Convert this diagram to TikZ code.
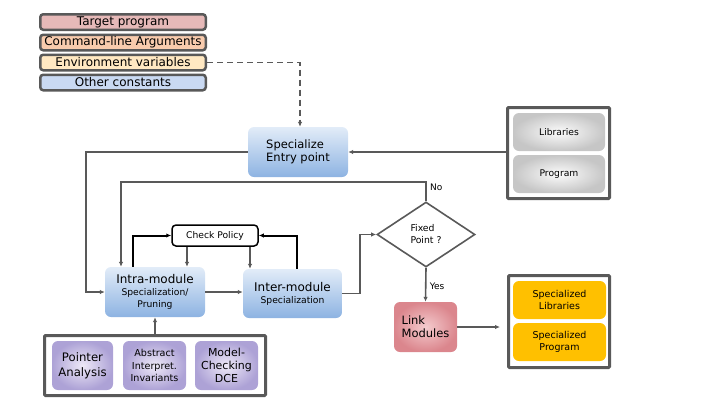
\documentclass[tikz,border=0pt]{standalone}
\usepackage{fontspec}
\setmainfont{DejaVu Sans}
\usetikzlibrary{arrows.meta,shapes.geometric}

\definecolor{frame}{HTML}{595959}
\definecolor{legTarget}{HTML}{E6B9B8}
\definecolor{legArgs}{HTML}{F8CBAD}
\definecolor{legEnv}{HTML}{FFE8C2}
\definecolor{legConst}{HTML}{C9D9F2}
\definecolor{blueTop}{HTML}{E2ECF8}
\definecolor{blueBot}{HTML}{8DB3E2}
\definecolor{linkIn}{HTML}{F4CBCE}
\definecolor{linkOut}{HTML}{DB868D}
\definecolor{grayIn}{HTML}{FCFCFC}
\definecolor{grayOut}{HTML}{C6C6C6}
\definecolor{lilacIn}{HTML}{EEE9F7}
\definecolor{lilacOut}{HTML}{ADA2D6}
\definecolor{amber}{HTML}{FFC000}

\begin{document}
\begin{tikzpicture}[
  x=1pt, y=-1pt,
  font=\fontsize{9.2}{12.2}\selectfont,
  legend/.style={
    draw=frame,
    line width=2.5pt,
    rounded corners=3pt,
    minimum width=165.5pt,
    minimum height=15.5pt,
    inner sep=0pt,
    font=\fontsize{12}{13}\selectfont
  },
  bluebox/.style={rounded corners=6pt, top color=blueTop, bottom color=blueBot, minimum width=100pt, minimum height=50pt, inner sep=0pt, align=center},
  linkbox/.style={rounded corners=6pt, inner color=linkIn, outer color=linkOut, minimum width=63pt, minimum height=50pt, inner sep=0pt, align=left, font=\fontsize{11.5}{13}\selectfont},
  graybox/.style={rounded corners=6pt, inner color=grayIn, outer color=grayOut, minimum width=92pt, minimum height=38pt, inner sep=0pt},
  amberbox/.style={rounded corners=6pt, fill=amber, minimum width=93pt, minimum height=38pt, inner sep=0pt, align=center, font=\fontsize{9.5}{11.5}\selectfont},
  lilacbox/.style={rounded corners=6pt, inner color=lilacIn, outer color=lilacOut, minimum height=49pt, inner sep=0pt, align=center},
  group/.style={draw=frame, line width=3pt, rounded corners=1pt, inner sep=0pt},
  arrow/.style={-{Latex[length=5pt,width=4.5pt]}, line width=1.6pt, draw=frame},
  policy/.style={-{Latex[length=5pt,width=4.5pt]}, line width=2pt, draw=black},
  dashline/.style={-{Latex[length=5pt,width=4.5pt]}, line width=1.6pt, draw=frame, dash pattern=on 6pt off 4pt}
]
\useasboundingbox (0,0) rectangle (720,405);

% legend
\node[legend, fill=legTarget] (target) at (123,22) {Target program};
\node[legend, fill=legArgs] (args) at (123,42.5) {Command-line Arguments};
\node[legend, fill=legEnv] (env) at (123,62.5) {Environment variables};
\node[legend, fill=legConst] (consts) at (123,82.5) {Other constants};

% main flow
\node[bluebox, align=left, font=\fontsize{11.5}{13.5}\selectfont] (entry) at (298,152) {Specialize\\Entry point};
\node[bluebox] (intra) at (155,292) {{\fontsize{12}{13}\selectfont Intra-module}\\Specialization/\\Pruning};
\node[bluebox, minimum width=99pt, minimum height=49pt] (inter) at (292.5,293.5) {{\fontsize{12}{13}\selectfont Inter-module}\\Specialization};
\node[draw=black, line width=1.5pt, rounded corners=4pt, fill=white, minimum width=86pt, minimum height=21pt, inner sep=0pt] (check) at (215,235.5) {Check Policy};
\node[diamond, draw=frame, line width=1.6pt, fill=white, minimum width=98pt, minimum height=65pt, inner sep=0pt, align=left, font=\fontsize{9.3}{12}\selectfont] (fixed) at (426,234.5) {Fixed\\Point ?};
\node[linkbox] (link) at (425.5,327) {Link\\Modules};

% inputs
\node[group, minimum width=102pt, minimum height=91pt] (inputs) at (558.5,153) {};
\node[graybox] (libs) at (559,132) {Libraries};
\node[graybox] (prog) at (559,174) {Program};

% outputs
\node[group, minimum width=101pt, minimum height=92pt] (outputs) at (559,321.5) {};
\node[amberbox] (speclibs) at (559.5,300) {Specialized\\Libraries};
\node[amberbox] (specprog) at (559.5,342) {Specialized\\Program};

% analyses
\node[group, minimum width=221pt, minimum height=60pt] (analyses) at (155,365.5) {};
\node[lilacbox, minimum width=61pt, font=\fontsize{11.7}{15}\selectfont] (pointer) at (82.5,365.5) {Pointer\\Analysis};
\node[lilacbox, minimum width=63pt, font=\fontsize{9.6}{12.5}\selectfont] (absint) at (154.5,365.5) {Abstract\\Interpret.\\Invariants};
\node[lilacbox, minimum width=63pt, font=\fontsize{11}{13.3}\selectfont] (modelcheck) at (226.5,365.5) {Model-\\Checking\\DCE};

% connectors
\draw[dashline] (env.east) -| ([xshift=2pt]entry.north);
\draw[arrow] (entry.east -| inputs.west) -- (entry.east);
\draw[arrow] (entry.west) -| ([xshift=-19pt]intra.west) -- (intra.west);
\draw[arrow] (fixed.north) -- node[right, pos=0.75, font=\fontsize{9}{11}\selectfont] {No} ++(0,-19) -| ([xshift=-34pt]intra.north);
\draw[arrow] (intra.east) -- (intra.east -| inter.west);
\draw[arrow] (inter.east) -- ++(18,0) |- (fixed.west);
\draw[arrow] (fixed.south) -- node[right, pos=0.55, font=\fontsize{9}{11}\selectfont] {Yes} (link.north);
\draw[arrow, shorten >=7pt] (link.east) -- (link.east -| outputs.west);
\draw[arrow] (analyses.north) -- (intra.south);

\draw[policy] ([xshift=-22pt]intra.north) |- (check.west);
\draw[policy] ([xshift=4.5pt]inter.north) |- (check.east);
\draw[arrow] ([xshift=-28pt]check.south) -- ([xshift=-28pt]check.south |- intra.north);
\draw[arrow] ([xshift=35pt]check.south) -- ([xshift=35pt]check.south |- inter.north);

\end{tikzpicture}
\end{document}
